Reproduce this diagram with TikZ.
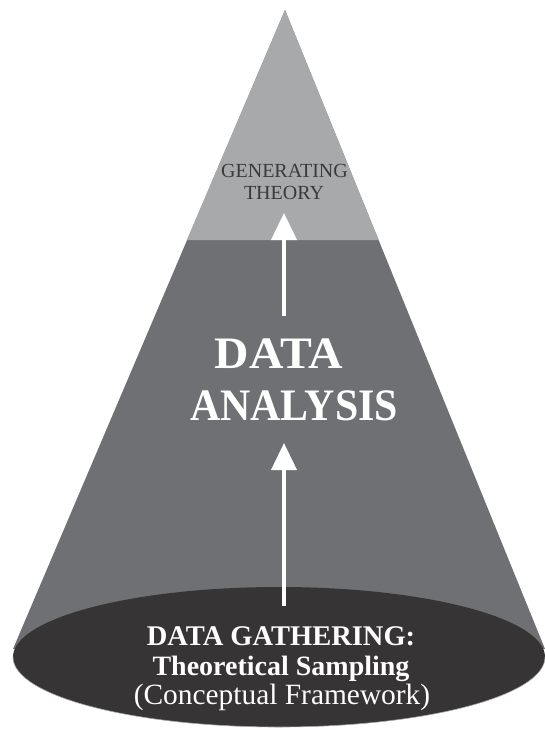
\documentclass[tikz,border=0pt]{standalone}
\usepackage{fontspec}
\setmainfont{Liberation Serif}
\usetikzlibrary{arrows.meta}
\definecolor{lightcone}{HTML}{A8A9AB}
\definecolor{midcone}{HTML}{6F7074}
\definecolor{basedark}{HTML}{363435}
\definecolor{toptext}{HTML}{3A3A3A}
\tikzset{
  uparrow/.style={draw=white, line width=4pt, -{Triangle[width=25pt,length=27pt]}},
  smalllbl/.style={anchor=base, text=toptext, font=\fontsize{20}{24}\selectfont, inner sep=0pt},
  biglbl/.style={anchor=base, text=white, font=\fontsize{45}{50}\selectfont\bfseries, inner sep=0pt},
  baselbl/.style={anchor=base, text=white, inner sep=0pt},
}
\begin{document}
\begin{tikzpicture}[x=1pt,y=-1pt]
\useasboundingbox (0,0) rectangle (545,730);
\fill[white] (0,0) rectangle (545,730);
% cone
\coordinate (apex) at (285,10);
\fill[midcone] (apex) -- (13,649) -- (545,649) -- cycle;
\fill[lightcone] (apex) -- (187,240) -- (378.6,240) -- cycle;
% base ellipse
\fill[basedark] (279,657) ellipse [x radius=266, y radius=70];
\draw[gray!70, line width=0.6pt] (13,657) arc[start angle=180, end angle=0, x radius=266, y radius=70];
% texts
\node[smalllbl] (gen) at (284.5,178) {GENERATING};
\node[smalllbl] (theo) at (284,199) {THEORY};
\node[biglbl] (data) at (279,368) {\scalebox{1.06}[1]{DATA}};
\node[biglbl] (anal) at (294,420) {\scalebox{0.93}[1]{ANALYSIS}};
\node[baselbl, font=\fontsize{28.5}{30}\selectfont\bfseries] (gath) at (281,645) {DATA GATHERING:};
\node[baselbl, font=\fontsize{28}{30}\selectfont\bfseries] (samp) at (281,675) {Theoretical Sampling};
\node[baselbl, font=\fontsize{29.4}{30}\selectfont] (conc) at (282,704) {(Conceptual Framework)};
% arrows
\coordinate (a1s) at (284,316);
\coordinate (a1e) at (284,213);
\coordinate (a2s) at (284,606);
\coordinate (a2e) at (284,443);
\draw[uparrow] (a1s) -- (a1e);
\draw[uparrow] (a2s) -- (a2e);
\end{tikzpicture}
\end{document}
